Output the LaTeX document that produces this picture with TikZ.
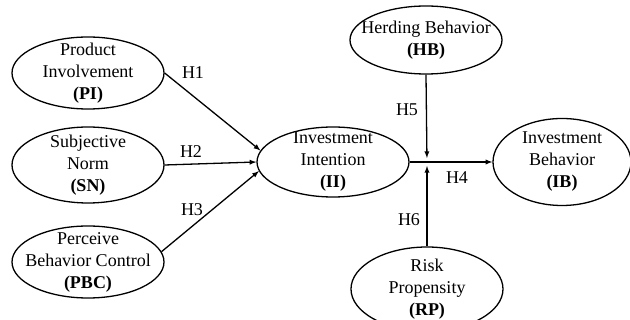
\documentclass[tikz,border=0pt]{standalone}
\usepackage{fontspec}
\setmainfont{Liberation Serif}
\usetikzlibrary{shapes.geometric}
\begin{document}
\begin{tikzpicture}[x=1pt,y=-1pt,>=latex,line width=1.3pt,
var/.style={draw,ellipse,minimum width=152pt,minimum height=72pt,inner sep=0pt},
txt/.style={align=center,font=\fontsize{18}{22}\selectfont,inner sep=0pt},
hyp/.style={font=\fontsize{18}{22}\selectfont,inner sep=0pt}]
\useasboundingbox (0,0) rectangle (630,320);
\node[var](PI) at(88,73){};
\node[txt](PIt) at(PI){Product\\Involvement\\\textbf{(PI)}};
\node[var,minimum height=76pt](SN) at(88,165){};
\node[txt](SNt) at(SN){Subjective\\Norm\\\textbf{(SN)}};
\node[var](PBC) at(88,262){};
\node[txt](PBCt) at(PBC){Perceive\\Behavior Control\\\textbf{(PBC)}};
\node[var,minimum height=70pt](II) at(333,162){};
\node[txt](IIt) at(II){Investment\\Intention\\\textbf{(II)}};
\node[var,minimum height=68pt](HB) at(426,40){};
\node[txt](HBt) at(HB){Herding Behavior\\\textbf{(HB)}};
\node[var,minimum width=138pt,minimum height=87pt](IB) at(562,162){};
\node[txt](IBt) at(IB){Investment\\Behavior\\\textbf{(IB)}};
\node[var,minimum height=84pt](RP) at(427,289){};
\node[txt](RPt) at(RP){Risk\\Propensity\\\textbf{(RP)}};
\coordinate (J) at(427,162);
\draw[->](PI.east)--(II.171);
\draw[->](SN.east)--(II.west);
\draw[->](PBC.8)--(II.187);
\draw[->](II.east)--(IB.west);
\draw[->,shorten >=4pt](HB.south)--(J);
\draw[->,shorten >=4pt](RP.north)--(J);
\node[hyp](H1) at(193,73){H1};
\node[hyp](H2) at(191,152){H2};
\node[hyp](H3) at(192,210){H3};
\node[hyp](H4) at(457,178){H4};
\node[hyp](H5) at(407,110){H5};
\node[hyp](H6) at(409,220){H6};
\end{tikzpicture}
\end{document}
